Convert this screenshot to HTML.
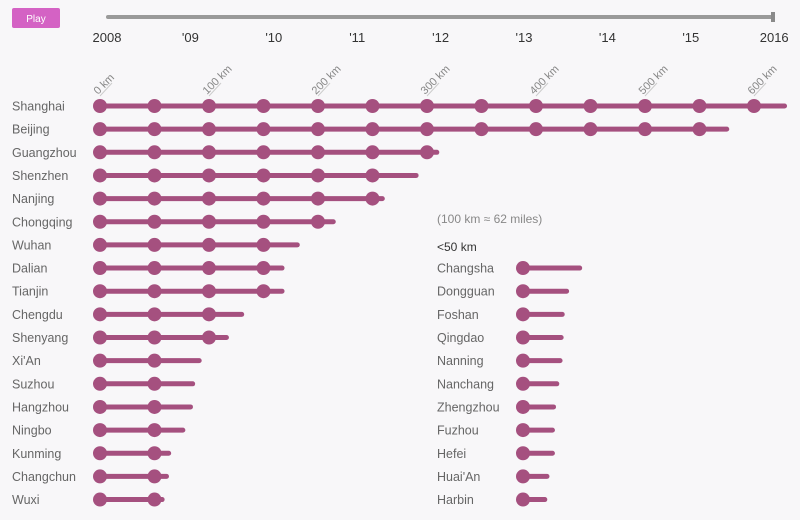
<!DOCTYPE html>
<html><head><meta charset="utf-8"><style>
body{margin:0;background:#f8f7f9;font-family:"Liberation Sans",sans-serif;}
svg{display:block}
</style></head><body>
<svg id="chart" width="800" height="520">
  <rect x="12" y="8" width="48" height="20" rx="2" fill="#d462c4"/>
  <text x="36" y="22" font-size="10" fill="#fff" text-anchor="middle">Play</text>
  <line x1="108" y1="17" x2="773" y2="17" stroke="#9a9a9a" stroke-width="4" stroke-linecap="round"/>
  <rect x="771" y="12" width="4" height="10" fill="#8a8a8a"/>
  <g id="years"></g>
  <g id="kmticks"></g>
  <g id="rows"></g>
  <text x="437" y="223" font-size="12" fill="#888">(100 km ≈ 62 miles)</text>
  <text x="437" y="251" font-size="12" fill="#333">&lt;50 km</text>
</svg>
<script>
const years=["2008","'09","'10","'11","'12","'13","'14","'15","2016"];
const kmTicks=[0,100,200,300,400,500,600];
const citiesLeft=["Shanghai","Beijing","Guangzhou","Shenzhen","Nanjing","Chongqing","Wuhan","Dalian","Tianjin","Chengdu","Shenyang","Xi'An","Suzhou","Hangzhou","Ningbo","Kunming","Changchun","Wuxi"];
const kmLeft=[628,575,309,290,259,214,181,167,167,130,116,91,85,83,76,63,61,57];
const citiesRight=["Changsha","Dongguan","Foshan","Qingdao","Nanning","Nanchang","Zhengzhou","Fuzhou","Hefei","Huai'An","Harbin"];
const kmRight=[52,40,36,35,34,31,28,27,27,22,20];
const NS="http://www.w3.org/2000/svg";
const X0=100,PX=1.09,Y0=106,DY=23.15,XR=523;
const xs=k=>X0+k*PX, ys=i=>Y0+i*DY;
function el(t,a,p){const e=document.createElementNS(NS,t);for(const k in a)e.setAttribute(k,a[k]);p.appendChild(e);return e;}
const yg=document.getElementById('years');
years.forEach((y,i)=>{const t=el('text',{x:107+i*83.4,y:42,'font-size':13,fill:'#333','text-anchor':'middle'},yg);t.textContent=y;

});
const kg=document.getElementById('kmticks');
kmTicks.forEach(k=>{const x=xs(k);
const l=el('line',{x1:x,y1:96,x2:x+12,y2:83,stroke:'#ccc','stroke-width':1},kg);


const t=el('text',{x:0,y:0,'font-size':11,fill:'#888',transform:`translate(${x-2},${95}) rotate(-45)`},kg);t.textContent=k+' km';

});
const rg=document.getElementById('rows');
function row(name,km,i,lx,x0,markers){const y=ys(i);
const t=el('text',{x:lx,y:y+4.5,'font-size':12.5,fill:'#666'},rg);t.textContent=name;


const l=el('line',{x1:x0,y1:y,x2:x0+km*PX,y2:y,stroke:'#a5507f','stroke-width':5,'stroke-linecap':'round'},rg);


for(let k=0;k<=(markers?km:0);k+=50){const c=el('circle',{cx:x0+k*PX,cy:y,r:7,fill:'#a5507f'},rg);

}}
citiesLeft.forEach((c,i)=>row(c,kmLeft[i],i,12,X0,true));
citiesRight.forEach((c,i)=>row(c,kmRight[i],i+7,437,XR,false));
</script>
</body></html>
